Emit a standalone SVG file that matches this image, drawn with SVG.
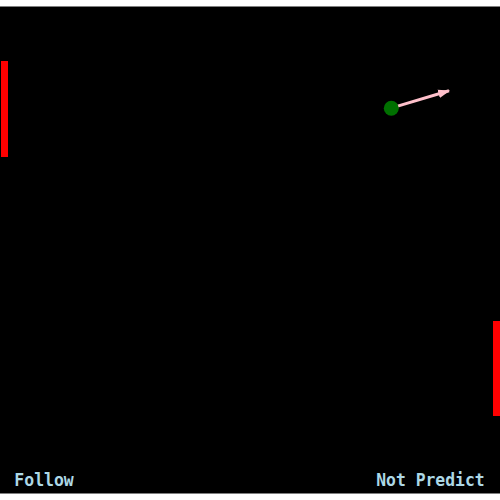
<svg xmlns="http://www.w3.org/2000/svg" width="500" height="500" viewBox="0 0 500 500">
<defs>
<style>
.paddle{fill:#ff0000}
.lbl{font-family:"DejaVu Sans Mono",monospace;font-size:17px;font-weight:bold;fill:#add8e6}
</style>
<marker id="ah" viewBox="0 0 10 10" refX="9" refY="5" markerWidth="4" markerHeight="4" orient="auto" markerUnits="strokeWidth">
<path d="M0,1.5 L10,5 L0,8.5 z" fill="pink"/>
</marker>
</defs>
<rect x="0" y="0" width="500" height="500" fill="#ffffff"/>
<rect x="0" y="6.5" width="500" height="487" fill="#000000"/>
<g id="paddle-left"><rect class="paddle" x="1" y="61" width="7" height="96"/></g>
<g id="paddle-right"><rect class="paddle" x="493" y="321" width="7" height="95"/></g>
<g id="connectors">
<line x1="396" y1="106.6" x2="449" y2="90.8" stroke="pink" stroke-width="3" marker-end="url(#ah)"/>
</g>
<g id="ball"><circle cx="391.3" cy="108.3" r="7.5" fill="#007000"/></g>
<g id="label-left"><text class="lbl" x="14.3" y="486" textLength="59.5" lengthAdjust="spacingAndGlyphs">Follow</text></g>
<g id="label-right"><text class="lbl" x="376.2" y="486" textLength="108.5" lengthAdjust="spacingAndGlyphs">Not Predict</text></g>
</svg>
